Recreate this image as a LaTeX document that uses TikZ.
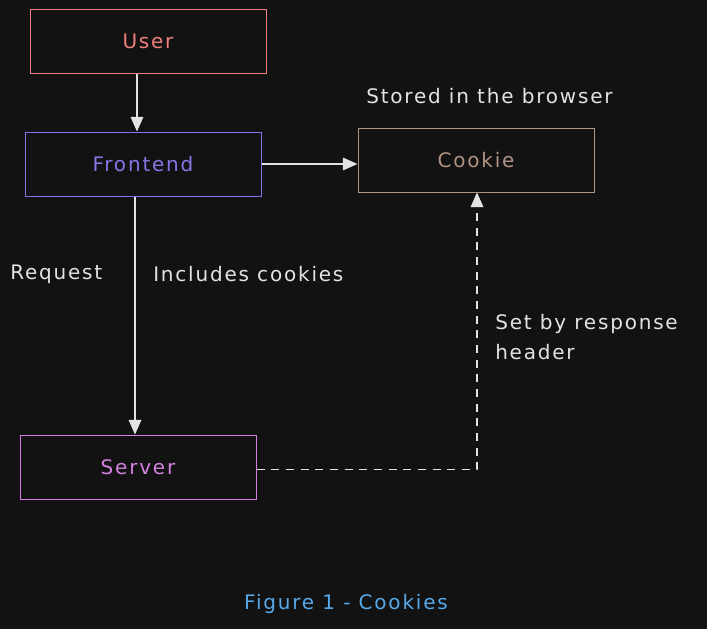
\documentclass[tikz,border=0pt]{standalone}
\usepackage{fontspec}
\setmainfont{DejaVu Sans}
\newfontfamily\handfont[LetterSpace=9]{DejaVu Sans}
\usetikzlibrary{arrows.meta, positioning}
\definecolor{bg}{HTML}{121212}
\definecolor{ink}{HTML}{E3E3E3}
\definecolor{userred}{HTML}{F08080}
\definecolor{frontpurple}{HTML}{8A73E6}
\definecolor{cookiebrown}{HTML}{B09383}
\definecolor{serverpink}{HTML}{D381DE}
\definecolor{figblue}{HTML}{56A8E8}

\begin{document}
\begin{tikzpicture}[x=0.75pt, y=-0.75pt,
    box/.style={draw, line width=0.75pt, minimum width=177pt, minimum height=48pt, font=\handfont\fontsize{15}{22}\selectfont},
    lbl/.style={text=ink, anchor=west, inner sep=0pt, font=\handfont\fontsize{15}{22}\selectfont},
    conn/.style={draw=ink, line width=0.9pt, -{Triangle[length=11pt, width=9.5pt, fill=ink]}}]
    \fill[bg] (0,0) rectangle (707,629);
    \node[box, draw=userred, text=userred] (user) at (148,41) {User};
    \node[box, draw=frontpurple, text=frontpurple] (frontend) at (143,164) {Frontend};
    \node[box, draw=cookiebrown, text=cookiebrown] (cookie) at (476,160) {Cookie};
    \node[box, draw=serverpink, text=serverpink] (server) at (138,467) {Server};
    \draw[conn] ([xshift=-8.25pt]user.south) -- ([xshift=-8.25pt]user.south |- frontend.north);
    \draw[conn] (frontend.east) -- (frontend.east -| cookie.west);
    \draw[conn] ([xshift=-6pt]frontend.south) -- ([xshift=-6pt]frontend.south |- server.north);
    \draw[conn, dash pattern=on 6pt off 5pt] ([yshift=-2pt]server.east) -| ([xshift=0.75pt]cookie.south);
    \node[lbl] (stored) at (366,96) {Stored in the browser};
    \node[lbl] (request) at (10,274) {Request};
    \node[lbl] (includes) at (153,274) {Includes cookies};
    \node[lbl, align=left] (setby) at (495,337) {Set by response\\header};
    \node[text=figblue, inner sep=0pt, font=\handfont\fontsize{15}{22}\selectfont] (caption) at (346,604) {Figure 1 - Cookies};
\end{tikzpicture}
\end{document}
